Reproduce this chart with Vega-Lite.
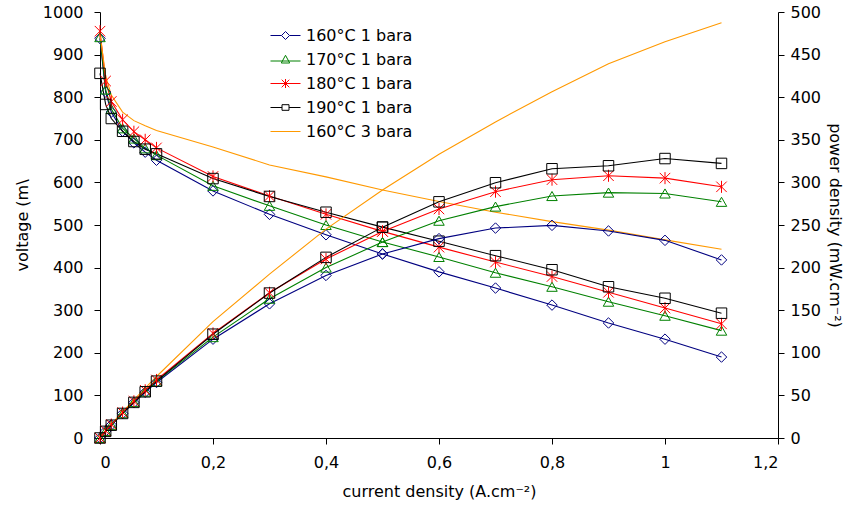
{
  "$schema": "https://vega.github.io/schema/vega-lite/v6.json",
  "width": 678,
  "height": 426,
  "autosize": "none",
  "padding": {"left": 100, "top": 12, "right": 84, "bottom": 70},
  "background": "white",
  "config": {
    "view": {"stroke": null},
    "font": "DejaVu Sans",
    "axis": {
      "grid": false,
      "domainColor": "#000000",
      "tickColor": "#000000",
      "labelColor": "#000000",
      "titleColor": "#000000",
      "labelFont": "DejaVu Sans",
      "titleFont": "DejaVu Sans",
      "labelFontSize": 16,
      "titleFontSize": 16,
      "titleFontWeight": "normal",
      "tickSize": 6,
      "labelPadding": 11
    },
    "legend": {
      "labelFont": "DejaVu Sans",
      "labelFontSize": 16,
      "labelColor": "#000000"
    }
  },
  "data": {
    "values": [
      {"series": "160°C 1 bara", "I": 0, "V": 938, "P": 0},
      {"series": "160°C 1 bara", "I": 0.01, "V": 812, "P": 8.1},
      {"series": "160°C 1 bara", "I": 0.02, "V": 765, "P": 15.3},
      {"series": "160°C 1 bara", "I": 0.04, "V": 720, "P": 28.8},
      {"series": "160°C 1 bara", "I": 0.06, "V": 693, "P": 41.6},
      {"series": "160°C 1 bara", "I": 0.08, "V": 671, "P": 53.7},
      {"series": "160°C 1 bara", "I": 0.1, "V": 652, "P": 65.2},
      {"series": "160°C 1 bara", "I": 0.2, "V": 580, "P": 116},
      {"series": "160°C 1 bara", "I": 0.3, "V": 525, "P": 157.5},
      {"series": "160°C 1 bara", "I": 0.4, "V": 477, "P": 190.8},
      {"series": "160°C 1 bara", "I": 0.5, "V": 432, "P": 216},
      {"series": "160°C 1 bara", "I": 0.6, "V": 390, "P": 234},
      {"series": "160°C 1 bara", "I": 0.7, "V": 352, "P": 246.4},
      {"series": "160°C 1 bara", "I": 0.8, "V": 312, "P": 249.6},
      {"series": "160°C 1 bara", "I": 0.9, "V": 270, "P": 243},
      {"series": "160°C 1 bara", "I": 1.0, "V": 232, "P": 232},
      {"series": "160°C 1 bara", "I": 1.1, "V": 190, "P": 209},

      {"series": "170°C 1 bara", "I": 0, "V": 941, "P": 0},
      {"series": "170°C 1 bara", "I": 0.01, "V": 818, "P": 8.2},
      {"series": "170°C 1 bara", "I": 0.02, "V": 772, "P": 15.4},
      {"series": "170°C 1 bara", "I": 0.04, "V": 727, "P": 29.1},
      {"series": "170°C 1 bara", "I": 0.06, "V": 703, "P": 42.2},
      {"series": "170°C 1 bara", "I": 0.08, "V": 680, "P": 54.4},
      {"series": "170°C 1 bara", "I": 0.1, "V": 664, "P": 66.4},
      {"series": "170°C 1 bara", "I": 0.2, "V": 592, "P": 118.4},
      {"series": "170°C 1 bara", "I": 0.3, "V": 545, "P": 163.5},
      {"series": "170°C 1 bara", "I": 0.4, "V": 500, "P": 200},
      {"series": "170°C 1 bara", "I": 0.5, "V": 460, "P": 230},
      {"series": "170°C 1 bara", "I": 0.6, "V": 425, "P": 255},
      {"series": "170°C 1 bara", "I": 0.7, "V": 388, "P": 271.6},
      {"series": "170°C 1 bara", "I": 0.8, "V": 355, "P": 284},
      {"series": "170°C 1 bara", "I": 0.9, "V": 320, "P": 288},
      {"series": "170°C 1 bara", "I": 1.0, "V": 287, "P": 287},
      {"series": "170°C 1 bara", "I": 1.1, "V": 252, "P": 277.2},

      {"series": "180°C 1 bara", "I": 0, "V": 955, "P": 0},
      {"series": "180°C 1 bara", "I": 0.01, "V": 838, "P": 8.4},
      {"series": "180°C 1 bara", "I": 0.02, "V": 790, "P": 15.8},
      {"series": "180°C 1 bara", "I": 0.04, "V": 747, "P": 29.9},
      {"series": "180°C 1 bara", "I": 0.06, "V": 719, "P": 43.1},
      {"series": "180°C 1 bara", "I": 0.08, "V": 700, "P": 56},
      {"series": "180°C 1 bara", "I": 0.1, "V": 681, "P": 68.1},
      {"series": "180°C 1 bara", "I": 0.2, "V": 614, "P": 122.8},
      {"series": "180°C 1 bara", "I": 0.3, "V": 568, "P": 170.4},
      {"series": "180°C 1 bara", "I": 0.4, "V": 525, "P": 210},
      {"series": "180°C 1 bara", "I": 0.5, "V": 485, "P": 242.5},
      {"series": "180°C 1 bara", "I": 0.6, "V": 448, "P": 268.8},
      {"series": "180°C 1 bara", "I": 0.7, "V": 413, "P": 289.1},
      {"series": "180°C 1 bara", "I": 0.8, "V": 379, "P": 303.2},
      {"series": "180°C 1 bara", "I": 0.9, "V": 342, "P": 307.8},
      {"series": "180°C 1 bara", "I": 1.0, "V": 305, "P": 305},
      {"series": "180°C 1 bara", "I": 1.1, "V": 268, "P": 294.8},

      {"series": "190°C 1 bara", "I": 0, "V": 856, "P": 0},
      {"series": "190°C 1 bara", "I": 0.01, "V": 783, "P": 7.8},
      {"series": "190°C 1 bara", "I": 0.02, "V": 750, "P": 15},
      {"series": "190°C 1 bara", "I": 0.04, "V": 720, "P": 28.8},
      {"series": "190°C 1 bara", "I": 0.06, "V": 696, "P": 41.8},
      {"series": "190°C 1 bara", "I": 0.08, "V": 678, "P": 54.2},
      {"series": "190°C 1 bara", "I": 0.1, "V": 667, "P": 66.7},
      {"series": "190°C 1 bara", "I": 0.2, "V": 609, "P": 121.8},
      {"series": "190°C 1 bara", "I": 0.3, "V": 567, "P": 170.1},
      {"series": "190°C 1 bara", "I": 0.4, "V": 530, "P": 212},
      {"series": "190°C 1 bara", "I": 0.5, "V": 495, "P": 247.5},
      {"series": "190°C 1 bara", "I": 0.6, "V": 462, "P": 277.2},
      {"series": "190°C 1 bara", "I": 0.7, "V": 428, "P": 299.6},
      {"series": "190°C 1 bara", "I": 0.8, "V": 395, "P": 316},
      {"series": "190°C 1 bara", "I": 0.9, "V": 355, "P": 319.5},
      {"series": "190°C 1 bara", "I": 1.0, "V": 328, "P": 328},
      {"series": "190°C 1 bara", "I": 1.1, "V": 293, "P": 322.3},

      {"series": "160°C 3 bara", "I": 0, "V": 948, "P": 0},
      {"series": "160°C 3 bara", "I": 0.01, "V": 850, "P": 8.5},
      {"series": "160°C 3 bara", "I": 0.02, "V": 805, "P": 16.1},
      {"series": "160°C 3 bara", "I": 0.04, "V": 765, "P": 30.6},
      {"series": "160°C 3 bara", "I": 0.06, "V": 745, "P": 44.7},
      {"series": "160°C 3 bara", "I": 0.08, "V": 733, "P": 58.6},
      {"series": "160°C 3 bara", "I": 0.1, "V": 722, "P": 72.2},
      {"series": "160°C 3 bara", "I": 0.2, "V": 683, "P": 136.6},
      {"series": "160°C 3 bara", "I": 0.3, "V": 641, "P": 192.3},
      {"series": "160°C 3 bara", "I": 0.4, "V": 613, "P": 245.2},
      {"series": "160°C 3 bara", "I": 0.5, "V": 582, "P": 291},
      {"series": "160°C 3 bara", "I": 0.6, "V": 555, "P": 333},
      {"series": "160°C 3 bara", "I": 0.7, "V": 530, "P": 371},
      {"series": "160°C 3 bara", "I": 0.8, "V": 508, "P": 406.4},
      {"series": "160°C 3 bara", "I": 0.9, "V": 488, "P": 439.2},
      {"series": "160°C 3 bara", "I": 1.0, "V": 465, "P": 465},
      {"series": "160°C 3 bara", "I": 1.1, "V": 443, "P": 487.3}
    ]
  },
  "encoding": {
    "x": {
      "field": "I",
      "type": "quantitative",
      "scale": {"domain": [0, 1.2], "nice": false, "zero": false},
      "axis": {
        "values": [0, 0.2, 0.4, 0.6, 0.8, 1.0, 1.2],
        "labelExpr": "replace(format(datum.value, '~g'), '.', ',')",
        "title": "current density (A.cm⁻²)",
        "labelPadding": 10,
        "titlePadding": 13
      }
    },
    "color": {
      "field": "series",
      "type": "nominal",
      "scale": {
        "domain": ["160°C 1 bara", "170°C 1 bara", "180°C 1 bara", "190°C 1 bara", "160°C 3 bara"],
        "range": ["#000080", "#008000", "#FF0000", "#000000", "#FF9900"]
      },
      "legend": {
        "title": null,
        "orient": "none",
        "legendX": 175,
        "legendY": 13,
        "symbolSize": 400,
        "symbolStrokeWidth": 1,
        "labelOffset": 10,
        "rowPadding": 5,
        "encode": {
          "symbols": {
            "update": {
              "fill": {"value": "transparent"},
              "shape": {"signal": "datum.value === '160°C 1 bara' ? 'M-1.5,0L-0.4,0M0.4,0L1.5,0M-0.4,0L0,-0.4L0.4,0L0,0.4Z' : datum.value === '170°C 1 bara' ? 'M-1.5,0.15L1.5,0.15M-0.42,0.35L0,-0.42L0.42,0.35Z' : datum.value === '180°C 1 bara' ? 'M-1.5,0L1.5,0M-0.38,-0.38L0.38,0.38M-0.38,0.38L0.38,-0.38M0,-0.45L0,0.45' : datum.value === '190°C 1 bara' ? 'M-1.5,0L-0.35,0M0.35,0L1.5,0M-0.35,-0.28L0.35,-0.28L0.35,0.28L-0.35,0.28Z' : 'M-1.5,0L1.5,0'"}
            }
          }
        }
      }
    }
  },
  "layer": [
    {
      "encoding": {
        "y": {
          "field": "V",
          "type": "quantitative",
          "scale": {"domain": [0, 1000], "nice": false},
          "axis": {
            "orient": "left",
            "values": [0, 100, 200, 300, 400, 500, 600, 700, 800, 900, 1000],
            "format": "d",
            "title": "voltage (m\\",
            "titlePadding": 12
          }
        }
      },
      "layer": [
        {"mark": {"type": "line", "strokeWidth": 1.1}},
        {
          "transform": [{"filter": "datum.series !== '160°C 3 bara'"}],
          "mark": {"type": "point", "filled": false, "strokeWidth": 1, "size": 110, "opacity": 1},
          "encoding": {
            "shape": {
              "field": "series",
              "type": "nominal",
              "scale": {
                "domain": ["160°C 1 bara", "170°C 1 bara", "180°C 1 bara", "190°C 1 bara"],
                "range": ["diamond", "triangle-up", "M-1,-1L1,1M-1,1L1,-1M0,-1.15L0,1.15", "square"]
              },
              "legend": null
            }
          }
        }
      ]
    },
    {
      "encoding": {
        "y": {
          "field": "P",
          "type": "quantitative",
          "scale": {"domain": [0, 500], "nice": false},
          "axis": {
            "orient": "right",
            "values": [0, 50, 100, 150, 200, 250, 300, 350, 400, 450, 500],
            "format": "d",
            "title": "power density (mW.cm⁻²)",
            "labelPadding": 6,
            "titlePadding": 6
          }
        }
      },
      "layer": [
        {"mark": {"type": "line", "strokeWidth": 1.1}},
        {
          "transform": [{"filter": "datum.series !== '160°C 3 bara'"}],
          "mark": {"type": "point", "filled": false, "strokeWidth": 1, "size": 110, "opacity": 1},
          "encoding": {
            "shape": {
              "field": "series",
              "type": "nominal",
              "scale": {
                "domain": ["160°C 1 bara", "170°C 1 bara", "180°C 1 bara", "190°C 1 bara"],
                "range": ["diamond", "triangle-up", "M-1,-1L1,1M-1,1L1,-1M0,-1.15L0,1.15", "square"]
              },
              "legend": null
            }
          }
        }
      ]
    }
  ],
  "resolve": {"scale": {"y": "independent"}}
}
